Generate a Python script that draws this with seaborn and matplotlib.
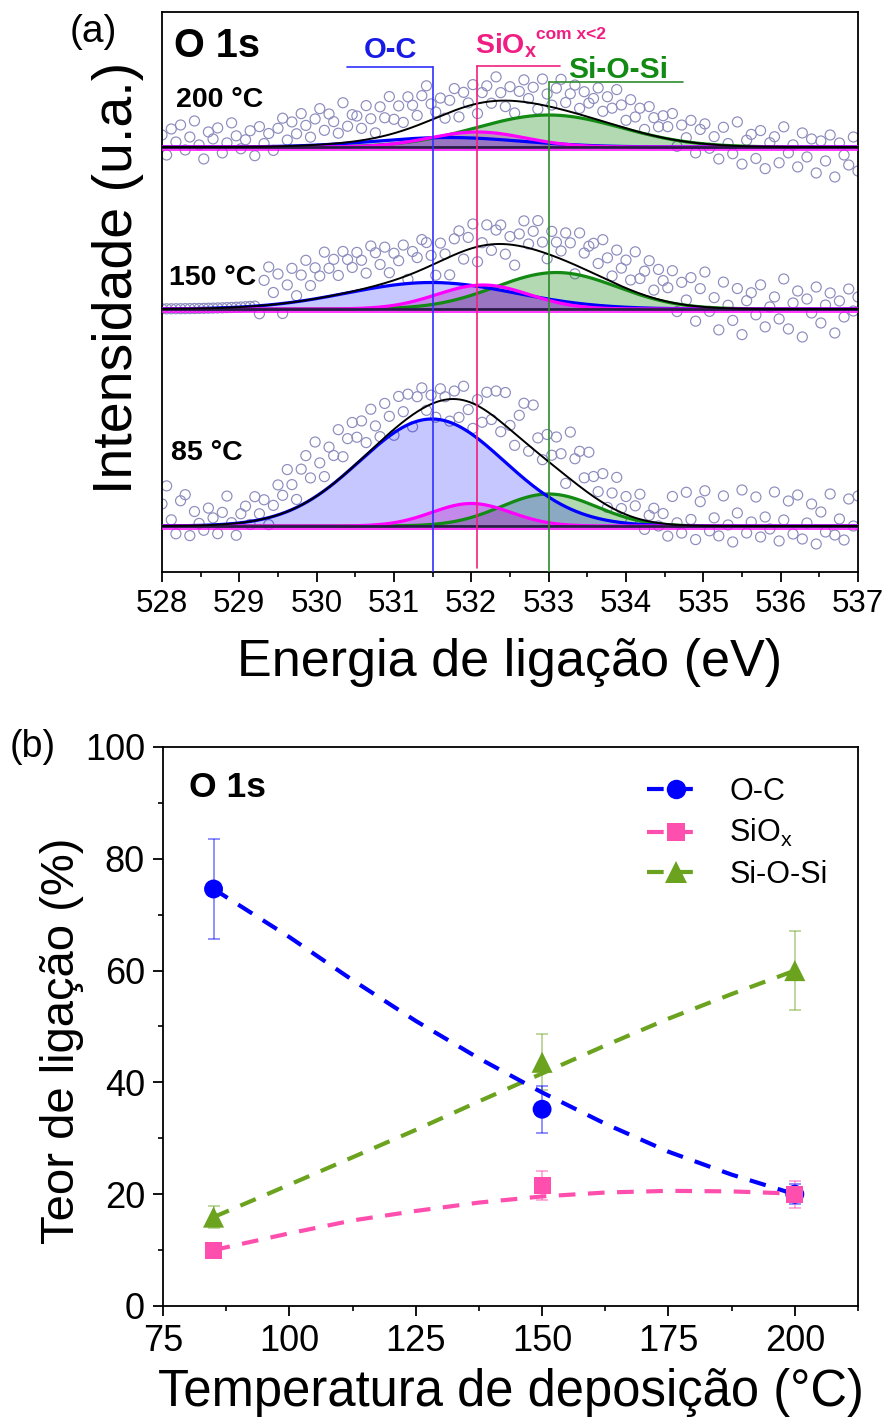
import numpy as np
import matplotlib
matplotlib.use("Agg")
import matplotlib.pyplot as plt
import seaborn as sns
from matplotlib.lines import Line2D
from matplotlib.ticker import MultipleLocator

# ---------------- data: panel (a) XPS O 1s fits ----------------
spectra = ["85 °C", "150 °C", "200 °C"]
baseline = [46, 263, 425]                 # vertical offsets of each spectrum (a.u.)
oc_center = [531.49, 531.48, 531.70]
oc_height = [107.0, 26.5, 9.5]
oc_fwhm = [2.20, 2.55, 2.24]
siox_center = [532.00, 532.15, 532.08]
siox_height = [22.5, 24.0, 15.0]
siox_fwhm = [1.20, 1.40, 1.45]
sios_center = [533.00, 533.10, 533.00]
sios_height = [32.0, 36.5, 32.0]
sios_fwhm = [1.45, 1.85, 2.20]

# residuals of the measured points relative to the fit envelope (a.u.)
resid_85 = [22, 40, 6, -8, 25, 31, -10, 14, 2, -5, 17, 7, -9, 12, 28, 1, -12, 9, 16, -3, 24, 6, 19, -7, 11,
            30, 18, 42, 25, 8, 36, 47, 22, 55, 31, 14, 40, 28, 50, 19, 33, 45,
            26, 38, 12, 41, 20, 5, 34, 17, -6, 29, 10, 24, -12, 15, 21, -4, 9,
            -15, 12, 3, -22, 8, -18, 14, -8, -25, 6, -14, 19, -5, 27, -10, 33, 4,
            -12, 22, 38, -6, 44, 15, -3, 26, 9, 31, 18, -8, 47, 24, 35, 12, 41,
            20, 8, 29, -2, 15, 33, 4, 18, -6, 12, 25, -9, 6, 14, -3, 10,
            -12, 28, 2, -8, 33, 6, -14, 24, 35, -5, 8, -10, 30, 1, -16, 13, 36, -7, 4, 29, -11,
            9, -3, 34, -15, 6, 25, -8, 31, -13, 3, 22, -18, 14, -6, 32, -9, 7, -14, 27, 0, 30]
resid_150 = [0, 0, 0, 0, 0, 0, 0, 0, 0, 0, 0, 0, 0, 0, 0, 0, 0, 0, 0, 0, 0,
             -8, 25, 38, 12,
             30, -10, 18, 34, 6, 26, 40, 14, 31, 22, 45, 28, 36, 19, 42, 33, 24,
             38, 29, 15, 41, 33, 20, 36, 9, 27, 18, 32, -4, 22, 14, 30, 25, 10,
             -12, 18, 5, -18, 16, 22, -8, 12, 24, -15, 3, 20, -6, 14, 19, -10, 8,
             -20, 12, 26, 4, 18, 30, 10, -5, 24, 15, 8, 28, 20, -9, 34, 16, 25,
             30, 12, 38, 22, 6, 34, 18, 28, 10, 40, 15, 24, 36, 8, 30, 20,
             14, 32, -8, 22, 5, 28, -15, 18, 35, -4, 10, -22, 26, 3, -12, 20, -26, 8, 16, -6, 24,
             -18, 2, 12, -10, 30, -20, 6, 18, -28, 10, -4, 22, -14, 4, 16, -24, 8, -8, 20, -2, 12]
resid_200 = [12, -8, 18, 5, 22, -3, 10, 26, 2, -12, 15, 8, 19, -6, 4, 24, 11, -2, 7, 16, -9, 20, 3, 13, -4,
             18, 28, 6, 24, 12, 32, 20, 8, 26, 36, 14, 30, 22, 10, 40, 16, 27,
             25, 12, 34, 20, 5, 30, 18, 38, 14, 26, 8, 32, 22, 10, 28, 36, 16,
             6, 18, -4, 12, 22, -8, 15, 3, 20, -10, 10, 16, -2, 24, 8, -6, 14,
             -12, 10, 22, 4, 16, -5, 26, 12, 2, 20, 30, 8, 18, 28, 6, 24, 14,
             20, 32, 10, 26, 16, 36, 22, 8, 30, 14, 24, 4, 28, 18, 10, 22,
             12, 26, -6, 16, 4, 22, -10, 14, 20, -4, 8, -14, 18, 2, -8, 24, -18, 6, 12, -12, 16,
             -22, 4, 10, -16, 20, -6, 2, -20, 14, -10, 8, -26, 6, -14, 12, -30, 4, -8, -18, 10, -24]
residuals = [resid_85, resid_150, resid_200]

# reference peak positions (eV)
ref_oc, ref_siox, ref_sios = 531.5, 532.07, 533.0

# ---------------- data: panel (b) bond content ----------------
temperature = [85, 150, 200]
oc_pct = [74.6, 35.2, 20.0]
oc_err = [9.0, 4.2, 1.8]
siox_pct = [10.0, 21.6, 20.0]
siox_err = [0.5, 2.6, 2.4]
sios_pct = [15.9, 43.6, 60.0]
sios_err = [1.9, 5.0, 7.1]

fit_temp = [85, 100, 112.5, 125, 137.5, 150, 162.5, 175, 187.5, 200]
oc_fit = [74.6, 66.0, 58.3, 51.0, 44.3, 38.2, 32.6, 27.6, 23.5, 20.0]
siox_fit = [10.0, 13.0, 15.3, 17.0, 18.5, 19.6, 20.3, 20.6, 20.5, 20.1]
sios_fit = [15.9, 21.7, 26.6, 31.5, 36.6, 41.6, 46.6, 51.4, 55.8, 60.0]

# ---------------- style ----------------
sns.set_style("ticks")
plt.rcParams['font.family'] = ['Liberation Sans', 'DejaVu Sans']
plt.rcParams['mathtext.fontset'] = 'custom'
plt.rcParams['mathtext.rm'] = 'Liberation Sans'
plt.rcParams['mathtext.bf'] = 'Liberation Sans:bold'
plt.rcParams['mathtext.it'] = 'Liberation Sans:italic'
plt.rcParams['mathtext.sf'] = 'Liberation Sans'
plt.rcParams['axes.linewidth'] = 1.3
for key in ['text.color', 'axes.labelcolor', 'xtick.color', 'ytick.color', 'axes.edgecolor']:
    plt.rcParams[key] = 'black'

C_BLUE = '#0000FF'
C_MAG = '#FF00FF'
C_GRN = '#138A13'
C_CIRC = '#8C8CBE'

fig = plt.figure(figsize=(8.86, 14.25), dpi=100)
ax1 = fig.add_axes([0.18284, 0.59860, 0.78555, 0.39298])
ax2 = fig.add_axes([0.18397, 0.08351, 0.78442, 0.39228])


def peak(E, c, h, w):
    E = np.asarray(E, dtype=float)
    return h * np.exp(-4 * np.log(2) * (E - c) ** 2 / w ** 2)


E_fine = np.linspace(528, 537, 901)

for k in range(3):
    base = baseline[k]
    res = residuals[k]
    E_pts = np.linspace(528, 537, len(res))
    env_pts = (peak(E_pts, oc_center[k], oc_height[k], oc_fwhm[k])
               + peak(E_pts, siox_center[k], siox_height[k], siox_fwhm[k])
               + peak(E_pts, sios_center[k], sios_height[k], sios_fwhm[k]))
    y_pts = base + env_pts + np.array(res, dtype=float)
    sns.scatterplot(x=E_pts, y=y_pts, ax=ax1, s=52, color=C_CIRC, zorder=1, legend=False)
    coll = ax1.collections[-1]
    coll.set_facecolor('none')
    coll.set_edgecolor(C_CIRC)
    coll.set_linewidth(0.85)

    g = peak(E_fine, sios_center[k], sios_height[k], sios_fwhm[k])
    m = peak(E_fine, siox_center[k], siox_height[k], siox_fwhm[k])
    b = peak(E_fine, oc_center[k], oc_height[k], oc_fwhm[k])

    ax1.fill_between(E_fine, base, base + g, color=C_GRN, alpha=0.32, lw=0, zorder=2)
    sns.lineplot(x=E_fine, y=base + g, ax=ax1, color=C_GRN, lw=2.3, zorder=3,
                 estimator=None, sort=False)
    ax1.fill_between(E_fine, base, base + b, color=C_BLUE, alpha=0.22, lw=0, zorder=2)
    sns.lineplot(x=E_fine, y=base + b, ax=ax1, color=C_BLUE, lw=2.3, zorder=3,
                 estimator=None, sort=False)
    ax1.fill_between(E_fine, base, base + m, color='#C000C0', alpha=0.30, lw=0, zorder=2)
    sns.lineplot(x=E_fine, y=base + m, ax=ax1, color=C_MAG, lw=2.3, zorder=3,
                 estimator=None, sort=False)
    sns.lineplot(x=E_fine, y=base + g + m + b, ax=ax1, color='black', lw=1.4, zorder=3.5,
                 estimator=None, sort=False)
    ax1.axhline(base, color='#2A1A4A', lw=2.0, zorder=3.2)
    ax1.axhline(base - 3, color=C_MAG, lw=1.1, zorder=3.2)

# reference lines with label brackets
ax1.plot([ref_oc, ref_oc], [0, 505], color='#3030FF', lw=1.2, zorder=4)
ax1.plot([530.39, ref_oc], [505, 505], color='#3030FF', lw=1.2, zorder=4)
ax1.plot([ref_siox, ref_siox], [4, 506], color='#F0207F', lw=1.2, zorder=4)
ax1.plot([ref_siox, 533.15], [506, 506], color='#F0207F', lw=1.2, zorder=4)
ax1.plot([ref_sios, ref_sios], [0, 490], color='#2E8B2E', lw=1.2, zorder=4)
ax1.plot([ref_sios, 534.74], [490, 490], color='#2E8B2E', lw=1.2, zorder=4)

ax1.text(530.95, 522, 'O-C', color='#1A1AE6', fontsize=21, fontweight='bold',
         ha='center', va='center', zorder=5)
ax1.text(532.05, 526, r'$\mathbf{SiO_{x}}$', color='#F01E82', fontsize=20.5,
         ha='left', va='center', zorder=5)
ax1.text(532.84, 537, 'com x<2', color='#F01E82', fontsize=12.5, fontweight='bold',
         ha='left', va='center', zorder=5)
ax1.text(533.9, 502, 'Si-O-Si', color=C_GRN, fontsize=21.5, fontweight='bold',
         ha='center', va='center', zorder=5)

ax1.text(528.15, 526, 'O 1s', fontsize=28.5, fontweight='bold', ha='left', va='center', zorder=5)
ax1.text(528.18, 472, spectra[2], fontsize=20.5, fontweight='bold', ha='left', va='center', zorder=5)
ax1.text(528.09, 294, spectra[1], fontsize=20.5, fontweight='bold', ha='left', va='center', zorder=5)
ax1.text(528.12, 119, spectra[0], fontsize=20.5, fontweight='bold', ha='left', va='center', zorder=5)

ax1.set_xlim(528, 537)
ax1.set_ylim(0, 560)
ax1.set_yticks([])
ax1.xaxis.set_major_locator(MultipleLocator(1))
ax1.xaxis.set_minor_locator(MultipleLocator(0.5))
ax1.tick_params(axis='x', which='major', direction='out', length=7, width=1.3,
                labelsize=22.5, pad=5, top=False)
ax1.tick_params(axis='x', which='minor', direction='out', length=3.5, width=1.2, top=False)
ax1.set_xlabel('Energia de ligação (eV)', fontsize=37.5)
ax1.xaxis.set_label_coords(0.5, -0.161)
ax1.xaxis.label.set_va('center')
ax1.set_ylabel('Intensidade (u.a.)', fontsize=40)
ax1.yaxis.set_label_coords(-0.063, 0.525)
ax1.yaxis.label.set_va('center')
for sp in ax1.spines.values():
    sp.set_visible(True)
    sp.set_linewidth(1.3)

# ---------------- panel (b) ----------------
C_B = '#0000FF'
C_P = '#FF4FAE'
C_G = '#6BA21E'
dash = (0, (4, 3))

ax2.errorbar(temperature, sios_pct, yerr=sios_err, fmt='none', ecolor=C_G, alpha=0.55,
             elinewidth=1.1, capsize=4, capthick=1.1, zorder=2)
ax2.errorbar(temperature, oc_pct, yerr=oc_err, fmt='none', ecolor=C_B, alpha=0.55,
             elinewidth=1.1, capsize=4, capthick=1.1, zorder=2)
ax2.errorbar(temperature, siox_pct, yerr=siox_err, fmt='none', ecolor=C_P, alpha=0.6,
             elinewidth=1.1, capsize=4, capthick=1.1, zorder=2)

sns.lineplot(x=fit_temp, y=sios_fit, ax=ax2, color=C_G, lw=3, linestyle=dash,
             estimator=None, sort=False, zorder=3)
sns.lineplot(x=fit_temp, y=oc_fit, ax=ax2, color=C_B, lw=3, linestyle=dash,
             estimator=None, sort=False, zorder=3)
sns.lineplot(x=fit_temp, y=siox_fit, ax=ax2, color=C_P, lw=3, linestyle=dash,
             estimator=None, sort=False, zorder=3)

sns.scatterplot(x=temperature, y=sios_pct, ax=ax2, marker='^', s=230, color=C_G,
                edgecolor='none', zorder=4, legend=False)
sns.scatterplot(x=temperature, y=oc_pct, ax=ax2, marker='o', s=185, color=C_B,
                edgecolor='none', zorder=4, legend=False)
sns.scatterplot(x=temperature, y=siox_pct, ax=ax2, marker='s', s=150, color=C_P,
                edgecolor='none', zorder=4, legend=False)

ax2.text(0.0374, 0.928, 'O 1s', transform=ax2.transAxes, fontsize=25.5, fontweight='bold',
         ha='left', va='center')

handles = [
    Line2D([], [], color=C_B, lw=3, linestyle=dash, marker='o', markersize=14, markeredgewidth=0),
    Line2D([], [], color=C_P, lw=3, linestyle=dash, marker='s', markersize=12.5, markeredgewidth=0),
    Line2D([], [], color=C_G, lw=3, linestyle=dash, marker='^', markersize=16, markeredgewidth=0),
]
labels = ['O-C', r'SiO$_\mathregular{x}$', 'Si-O-Si']
ax2.legend(handles, labels, loc='upper left', bbox_to_anchor=(0.696, 0.947), frameon=False,
           fontsize=22, handlelength=1.9, handletextpad=0.8, labelspacing=0.35,
           borderpad=0, borderaxespad=0)

ax2.set_xlim(75, 212.5)
ax2.set_ylim(0, 100)
ax2.xaxis.set_major_locator(MultipleLocator(25))
ax2.xaxis.set_minor_locator(MultipleLocator(12.5))
ax2.yaxis.set_major_locator(MultipleLocator(20))
ax2.yaxis.set_minor_locator(MultipleLocator(10))
ax2.tick_params(which='major', direction='out', length=7, width=1.3, labelsize=26, pad=6,
                top=False, right=False)
ax2.tick_params(which='minor', direction='out', length=3.5, width=1.2, top=False, right=False)
ax2.set_xlabel('Temperatura de deposição (°C)', fontsize=36.5)
ax2.xaxis.set_label_coords(0.5, -0.154)
ax2.xaxis.label.set_va('center')
ax2.set_ylabel('Teor de ligação (%)', fontsize=34)
ax2.yaxis.set_label_coords(-0.145, 0.475)
ax2.yaxis.label.set_va('center')
for sp in ax2.spines.values():
    sp.set_visible(True)
    sp.set_linewidth(1.3)

fig.text(0.105, 0.9775, '(a)', fontsize=28, ha='center', va='center')
fig.text(0.037, 0.4758, '(b)', fontsize=27, ha='center', va='center')

fig.savefig('out.png', dpi=100)
